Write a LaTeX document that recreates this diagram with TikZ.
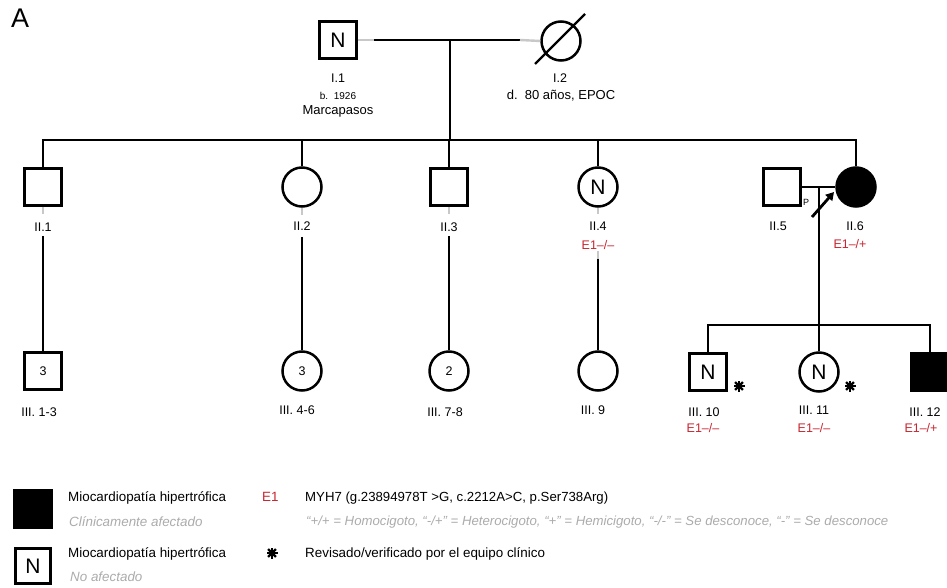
\documentclass[tikz,border=0pt]{standalone}
\usepackage{fontspec}
\setmainfont{Liberation Sans}
\usetikzlibrary{arrows.meta}
\definecolor{genred}{RGB}{200,38,48}
\definecolor{legray}{RGB}{172,172,172}
\definecolor{stubgray}{RGB}{200,200,200}
\newcommand{\fs}[1]{\fontsize{#1}{#1}\selectfont}
\begin{document}
\begin{tikzpicture}[x=1pt,y=-1pt,
  male/.style={draw, line width=2.5pt, minimum size=37pt, inner sep=0pt, font=\fs{21}},
  female/.style={draw, circle, line width=2.5pt, minimum size=39pt, inner sep=0pt, font=\fs{21}},
  aff/.style={fill=black},
  lab/.style={font=\fs{12.5}, inner sep=0pt, anchor=base},
  geno/.style={lab, text=genred},
  rel/.style={line width=2.4pt},
  stub/.style={line width=2.4pt, draw=stubgray},
  leg/.style={font=\fs{13.4}, inner sep=0pt, anchor=base west},
  legit/.style={font=\fs{13.4}\itshape, text=legray, inner sep=0pt, anchor=base west},
  star/.pic={\foreach \a in {0,45,90,135}{\draw[line width=2.3pt] (\a:5.5) -- (\a+180:5.5);}\fill (0,0) circle (2.5pt);}
]
\useasboundingbox (0,0) rectangle (947,588);
\fill[white] (0,0) rectangle (947,588);

\node[font=\fs{27}, anchor=base west, inner sep=0pt] (A) at (11,28) {A};

% Generation I
\node[male] (I1) at (338,40) {N};
\node[female] (I2) at (561,41) {};
\draw[rel] ([shift={(-26,23)}]I2.center) -- ([shift={(24,-27)}]I2.center);
\coordinate (m1a) at (374,40);
\coordinate (m1b) at (520,40);
\coordinate (d1) at (450,40);
\draw[stub] (I1.east) -- (m1a);
\draw[rel] (m1a) -- (m1b);
\draw[stub] (m1b) -- (I2.west);
\node[lab] (I1l) at (338,83) {I.1};
\node[lab, font=\fs{10}] (I1b) at (338,100) {b.\ \ 1926};
\node[lab, font=\fs{13}] (I1c) at (338,115) {Marcapasos};
\node[lab] (I2l) at (560,83) {I.2};
\node[lab, font=\fs{13}] (I2d) at (561,100) {d.\ \ 80 años, EPOC};

% sibship II
\coordinate (s2) at (450,140);
\coordinate (s2l) at (43,140);
\coordinate (s2r) at (856,140);
\draw[rel] (d1) -- (s2);
\draw[rel] ([xshift=-1.2pt]s2l) -- ([xshift=1.2pt]s2r);

% Generation II
\node[male] (II1) at (43,187) {};
\node[female] (II2) at (302,187) {};
\node[male] (II3) at (449,187) {};
\node[female] (II4) at (598,187) {N};
\node[male] (II5) at (782,187) {};
\node[female, aff] (II6) at (856,187) {};
\foreach \n in {II1,II2,II3,II4,II6}{\draw[rel] (\n.north) -- (\n.north |- s2l);}

\node[lab] (II1l) at (43,231) {II.1};
\node[lab] (II2l) at (302,230) {II.2};
\node[lab] (II3l) at (449,231) {II.3};
\node[lab] (II4l) at (598,230) {II.4};
\node[geno] (II4g) at (598,249) {E1–/–};
\node[lab] (II5l) at (778,230) {II.5};
\node[lab] (II6l) at (855,230) {II.6};
\node[geno] (II6g) at (850,248) {E1–/+};

% marriage II.5 - II.6
\coordinate (m2) at (819,187);
\draw[rel] (II5.east) -- (II6.west);
\node[font=\fs{9}, inner sep=0pt] (P) at (806,202) {P};
\coordinate (pa) at (812,217);
\coordinate (pb) at (834,192);
\draw[line width=2.8pt, -{Triangle[length=8pt,width=9pt]}] (pa) -- (pb);

% Generation III
\node[male, font=\fs{12.5}] (III1) at (43,371) {3};
\node[female, font=\fs{12.5}] (III4) at (302,371) {3};
\node[female, font=\fs{12.5}] (III7) at (449,371) {2};
\node[female] (III9) at (598,371) {};
\node[male] (III10) at (708,372) {N};
\node[female] (III11) at (819,372) {N};
\node[male, aff] (III12) at (930,372) {};

% stubs and descent lines gen II -> III
\foreach \n/\m in {II1/III1,II2/III4,II3/III7}{
  \draw[stub] (\n.south) -- ++(0,7);
  \draw[rel] (\n.south) ++(0,29) -- (\m.north);
}
\draw[stub] (II4.south) -- ++(0,6);
\draw[stub] (II4.south) ++(0,43) -- ++(0,8);
\draw[rel] (II4.south) ++(0,51) -- (III9.north);

% sibship III
\coordinate (s3) at (819,325);
\draw[rel] (m2) -- (s3);
\draw[rel] (III10.north) -- (III10.north |- s3) -- (III12.north |- s3) -- (III12.north);
\draw[rel] (III11.north) -- (s3);

\pic at (739,386) {star};
\pic at (850,386) {star};

\node[lab] (III1l) at (39,416) {III. 1-3};
\node[lab] (III4l) at (297,414) {III. 4-6};
\node[lab] (III7l) at (445,416) {III. 7-8};
\node[lab] (III9l) at (593,414) {III. 9};
\node[lab] (III10l) at (704,416) {III. 10};
\node[geno] (III10g) at (703,432) {E1–/–};
\node[lab] (III11l) at (814,414) {III. 11};
\node[geno] (III11g) at (814,432) {E1–/–};
\node[lab] (III12l) at (925,416) {III. 12};
\node[geno] (III12g) at (921,432) {E1–/+};

% Legend
\node[male, aff, minimum size=38pt] (L1) at (33,509) {};
\node[male, minimum size=35pt] (L2) at (33,566) {N};
\node[leg] (L1a) at (68,501) {Miocardiopatía hipertrófica};
\node[legit] (L1b) at (69,526) {Clínicamente afectado};
\node[leg] (L2a) at (68,557) {Miocardiopatía hipertrófica};
\node[legit] (L2b) at (70,581) {No afectado};
\node[leg, text=genred] (E1) at (262,501) {E1};
\node[leg, font=\fs{13.2}] (E1t) at (305,501) {MYH7 (g.23894978T >G, c.2212A>C, p.Ser738Arg)};
\node[legit, font=\fs{13.2}\itshape] (E1k) at (306,525) {“+/+ = Homocigoto, “-/+” = Heterocigoto, “+” = Hemicigoto, “-/-” = Se desconoce, “-” = Se desconoce};
\pic at (272,553) {star};
\node[leg] (Rv) at (305,557) {Revisado/verificado por el equipo clínico};
\end{tikzpicture}
\end{document}
